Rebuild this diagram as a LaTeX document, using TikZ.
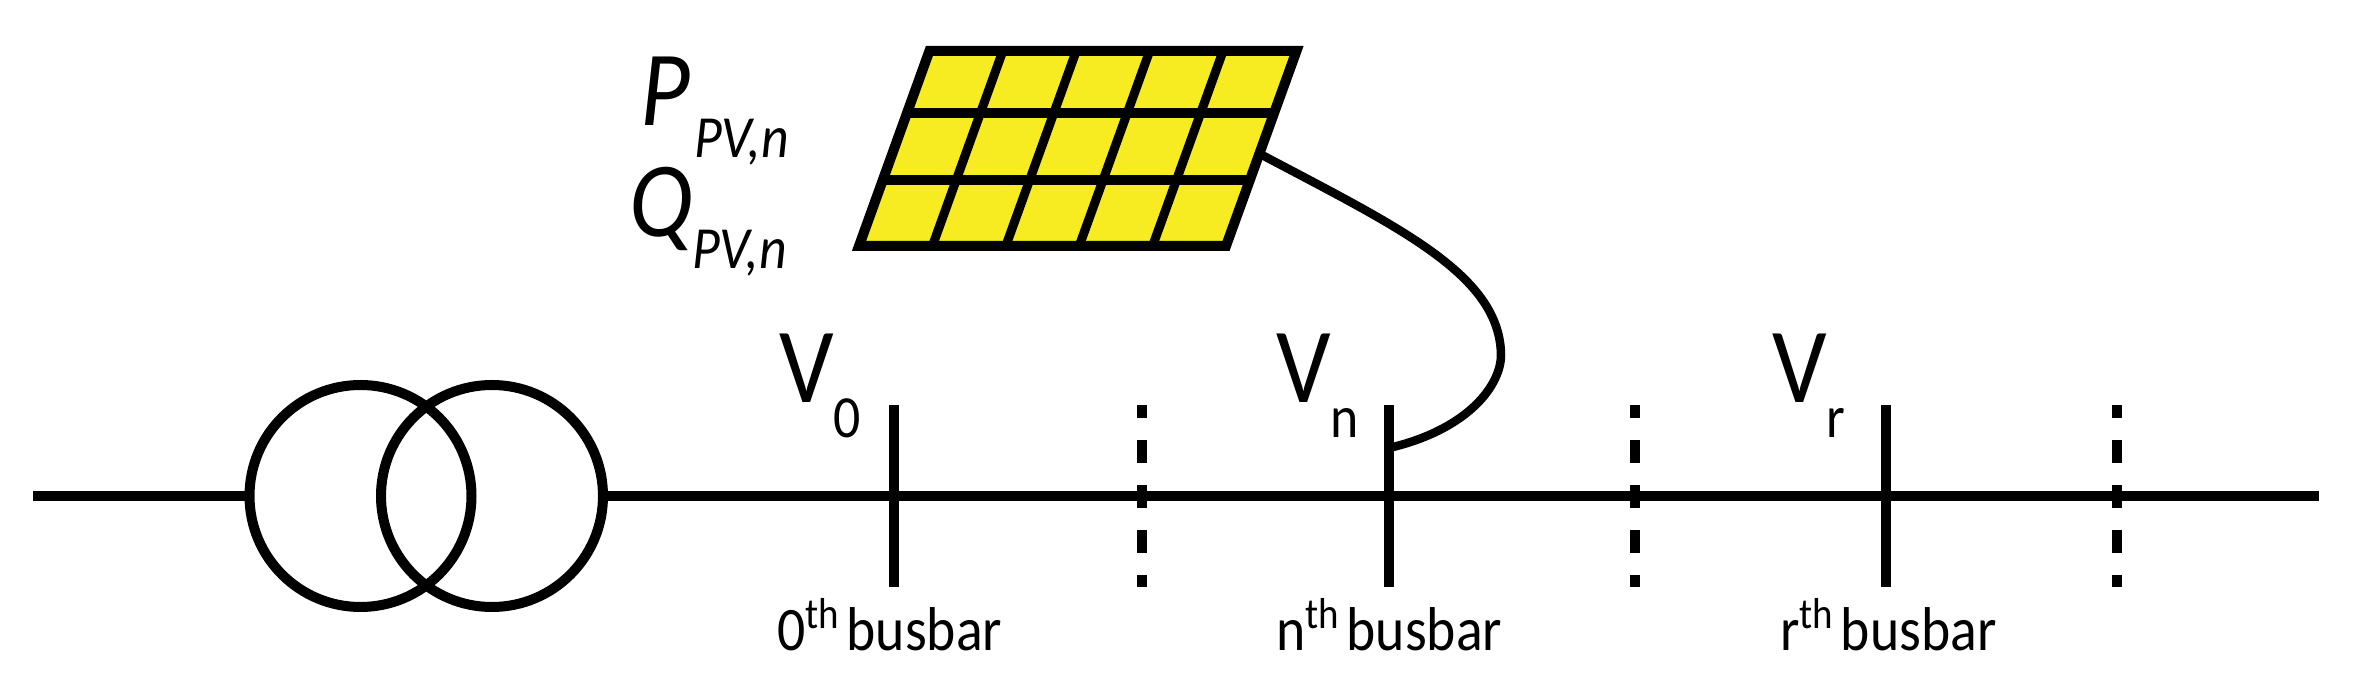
\documentclass[tikz,border=0pt]{standalone}
\usepackage{fontspec}
\setmainfont[FakeStretch=0.9]{Carlito}
\usetikzlibrary{calc}
\definecolor{pvyellow}{HTML}{F6EC21}
\tikzset{%
        every node/.style = {inner sep = 0pt, outer sep = 0pt, anchor = base west}
}
\tikzstyle{winding}=[
    draw = black,
    circle,
    anchor = center,
    minimum size = 2.22cm
]
\tikzstyle{voltage}=[
    font = \fontsize{30.4}{30.4}\selectfont
]
\tikzstyle{power}=[
    font = \fontsize{30.4}{30.4}\selectfont\itshape
]
\tikzstyle{subscript}=[
    font = \fontsize{17}{17}\selectfont\itshape
]
\tikzstyle{busname}=[
    font = \fontsize{17.6}{17.6}\selectfont
]
\tikzstyle{section}=[
    dash pattern = on 2.3mm off 2.2mm,
    dash phase = 1mm
]
\newcommand{\lowered}[1]{\raisebox{-9.7pt}{\fontsize{17}{17}\selectfont #1}}
\newcommand{\busname}[1]{#1\textsuperscript{th}\hspace{0.1em}busbar}
\begin{document}
\begin{tikzpicture}[line width = 1mm]
        \useasboundingbox (0,0) rectangle (23.6,6.84);
        % transformer and main line
        \coordinate (in) at (0.33,1.88);
        \coordinate (out) at (23.19,1.88);
        \node[winding] (t1) at (3.605,1.88) {};
        \node[winding] (t2) at (4.92,1.88) {};
        \draw (in) -- (t1.west);
        \draw (t2.east) -- (out);
        % busbars
        \coordinate (b0t) at (8.94,2.79);
        \coordinate (b0b) at (8.94,0.97);
        \coordinate (bnt) at (13.89,2.79);
        \coordinate (bnb) at (13.89,0.97);
        \coordinate (brt) at (18.86,2.79);
        \coordinate (brb) at (18.86,0.97);
        \draw (b0t) -- (b0b);
        \draw (bnt) -- (bnb);
        \draw (brt) -- (brb);
        % dashed sections
        \coordinate (s1t) at (11.42,2.79);
        \coordinate (s1b) at (11.42,0.97);
        \coordinate (s2t) at (16.35,2.79);
        \coordinate (s2b) at (16.35,0.97);
        \coordinate (s3t) at (21.17,2.79);
        \coordinate (s3b) at (21.17,0.97);
        \draw[section] (s1t) -- (s1b);
        \draw[section] (s2t) -- (s2b);
        \draw[section] (s3t) -- (s3b);
        % PV panel
        \coordinate (bl) at (8.59,4.38);
        \coordinate (br) at (12.26,4.38);
        \coordinate (tr) at (12.965,6.33);
        \coordinate (tl) at (9.294,6.33);
        \draw[fill = pvyellow] (bl) -- (br) -- (tr) -- (tl) -- cycle;
        \draw ($(bl)!0.338!(tl)$) -- ($(br)!0.338!(tr)$);
        \draw ($(bl)!0.682!(tl)$) -- ($(br)!0.682!(tr)$);
        \draw[line width = 0.9mm] ($(bl)!0.2!(br)$) -- ($(tl)!0.2!(tr)$);
        \draw[line width = 0.9mm] ($(bl)!0.4!(br)$) -- ($(tl)!0.4!(tr)$);
        \draw[line width = 0.9mm] ($(bl)!0.6!(br)$) -- ($(tl)!0.6!(tr)$);
        \draw[line width = 0.9mm] ($(bl)!0.8!(br)$) -- ($(tl)!0.8!(tr)$);
        % cable from panel to busbar
        \coordinate (pvout) at (12.62,5.29);
        \coordinate (tap) at (13.89,2.36);
        \draw[line width = 0.85mm] (pvout) .. controls (14.0,4.56) and (15.0,4.09) .. (15.01,3.29)
            .. controls (15.01,3.0) and (14.7,2.55) .. (tap);
        % labels
        \node[voltage] (v0) at (7.79,2.81) {V\lowered{0}};
        \node[voltage] (vn) at (12.76,2.81) {V\lowered{n}};
        \node[voltage] (vr) at (17.72,2.81) {V\lowered{r}};
        \node[power] (p) at (6.40,5.58) {P};
        \node[subscript] (psub) at (6.94,5.26) {PV,n};
        \node[power] (q) at (6.29,4.47) {Q};
        \node[subscript] (qsub) at (6.92,4.15) {PV,n};
        \node[busname] (n0) at (7.77,0.33) {\busname{0}};
        \node[busname] (nn) at (12.76,0.33) {\busname{n}};
        \node[busname] (nr) at (17.80,0.33) {\busname{r}};
\end{tikzpicture}
\end{document}
